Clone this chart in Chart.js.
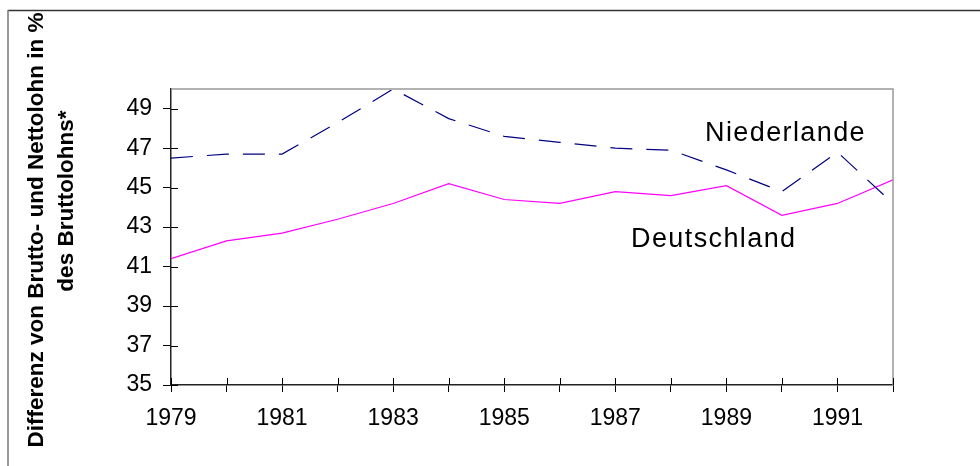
<!DOCTYPE html>
<html>
<head>
<meta charset="utf-8">
<script src="https://cdn.jsdelivr.net/npm/chart.js@4"></script>
<style>
    html, body { margin: 0; padding: 0; background: #fff; }
    #wrap { width: 980px; height: 466px; }
</style>
</head>
<body>
<div id="wrap"><canvas id="lohnChart" width="980" height="466"></canvas></div>
<script>
document.addEventListener('DOMContentLoaded', function() {
    const FONT = '"Liberation Sans", Arial, sans-serif';

    // Data
    const years = [1979, 1980, 1981, 1982, 1983, 1984, 1985, 1986, 1987, 1988, 1989, 1990, 1991, 1992];
    const niederlande = [46.5, 46.7, 46.7, 48.3, 50.0, 48.5, 47.6, 47.3, 47.0, 46.9, 45.9, 44.8, 46.8, 44.2];
    const deutschland = [41.4, 42.3, 42.7, 43.4, 44.2, 45.2, 44.4, 44.2, 44.8, 44.6, 45.1, 43.6, 44.2, 45.4];

    // Frame, inner ticks, plot border and text labels
    const decorations = {
        id: 'decorations',
        beforeDraw(chart) {
            const ctx = chart.ctx;
            ctx.save();
            ctx.lineWidth = 1.5;
            ctx.strokeStyle = '#333';
            ctx.beginPath();
            ctx.moveTo(8, 10.5);
            ctx.lineTo(980, 10.5);
            ctx.stroke();
            ctx.strokeStyle = '#777';
            ctx.beginPath();
            ctx.moveTo(8, 10);
            ctx.lineTo(8, 466);
            ctx.stroke();
            ctx.restore();
        },
        afterDraw(chart) {
            const ctx = chart.ctx;
            const area = chart.chartArea;
            const xScale = chart.scales.x;
            const yScale = chart.scales.y;
            ctx.save();

            // top and right border of the plot
            ctx.strokeStyle = '#999';
            ctx.lineWidth = 1.5;
            ctx.beginPath();
            ctx.moveTo(area.left, area.top);
            ctx.lineTo(area.right, area.top);
            ctx.lineTo(area.right, area.bottom);
            ctx.stroke();

            // tick marks reaching into the plot
            ctx.strokeStyle = '#000';
            ctx.lineWidth = 1;
            ctx.beginPath();
            yScale.ticks.forEach(t => {
                const py = Math.round(yScale.getPixelForValue(t.value)) + 0.5;
                ctx.moveTo(area.left, py);
                ctx.lineTo(area.left + 7, py);
            });
            xScale.ticks.forEach(t => {
                const px = Math.round(xScale.getPixelForValue(t.value)) + 0.5;
                ctx.moveTo(px, area.bottom);
                ctx.lineTo(px, area.bottom - 7);
            });
            ctx.stroke();

            // series labels
            ctx.fillStyle = '#000';
            ctx.font = '27px ' + FONT;
            ctx.letterSpacing = '1.4px';
            ctx.textBaseline = 'alphabetic';
            ctx.textAlign = 'left';
            ctx.fillText('Niederlande', 705, 141);
            ctx.fillText('Deutschland', 631, 247);

            // y axis title, two lines, rotated
            ctx.letterSpacing = '0px';
            ctx.font = 'bold 22.5px ' + FONT;
            ctx.textAlign = 'center';
            ctx.save();
            ctx.translate(43, 230);
            ctx.rotate(-Math.PI / 2);
            ctx.fillText('Differenz von Brutto- und Nettolohn in %', 0, 0);
            ctx.restore();
            ctx.save();
            ctx.translate(73, 201);
            ctx.rotate(-Math.PI / 2);
            ctx.fillText('des Bruttolohns*', 0, 0);
            ctx.restore();

            ctx.restore();
        }
    };

    const ctx = document.getElementById('lohnChart').getContext('2d');
    new Chart(ctx, {
        type: 'line',
        data: {
            datasets: [
                {
                    label: 'Niederlande',
                    data: years.map((y, i) => ({ x: y, y: niederlande[i] })),
                    borderColor: '#000080',
                    borderWidth: 1.2,
                    borderDash: [22, 14],
                    pointRadius: 0,
                    tension: 0,
                    fill: false
                },
                {
                    label: 'Deutschland',
                    data: years.map((y, i) => ({ x: y, y: deutschland[i] })),
                    borderColor: '#ff00ff',
                    borderWidth: 1.2,
                    pointRadius: 0,
                    tension: 0,
                    fill: false
                }
            ]
        },
        options: {
            responsive: false,
            animation: false,
            layout: {
                padding: { left: 0, top: 89, right: 87, bottom: 0 }
            },
            plugins: {
                legend: { display: false },
                tooltip: { enabled: false }
            },
            scales: {
                x: {
                    type: 'linear',
                    min: 1979,
                    max: 1992,
                    afterBuildTicks: scale => {
                        scale.ticks = years.map(v => ({ value: v }));
                    },
                    afterFit: scale => { scale.height = 81; },
                    ticks: {
                        autoSkip: false,
                        maxRotation: 0,
                        padding: 13,
                        color: '#000',
                        font: { family: FONT, size: 23 },
                        callback: v => (v % 2 === 1 ? String(v) : '')
                    },
                    grid: {
                        drawOnChartArea: false,
                        drawTicks: true,
                        tickLength: 7,
                        color: '#000'
                    },
                    border: { display: true, color: '#222', width: 1.5 }
                },
                y: {
                    type: 'linear',
                    min: 35,
                    max: 50,
                    afterBuildTicks: scale => {
                        scale.ticks = [35, 37, 39, 41, 43, 45, 47, 49].map(v => ({ value: v }));
                    },
                    afterFit: scale => { scale.width = 171; },
                    ticks: {
                        padding: 11,
                        color: '#000',
                        font: { family: FONT, size: 23 }
                    },
                    grid: {
                        drawOnChartArea: false,
                        drawTicks: true,
                        tickLength: 8,
                        color: '#000'
                    },
                    border: { display: true, color: '#222', width: 1.5 }
                }
            }
        },
        plugins: [decorations]
    });
});
</script>
</body>
</html>
